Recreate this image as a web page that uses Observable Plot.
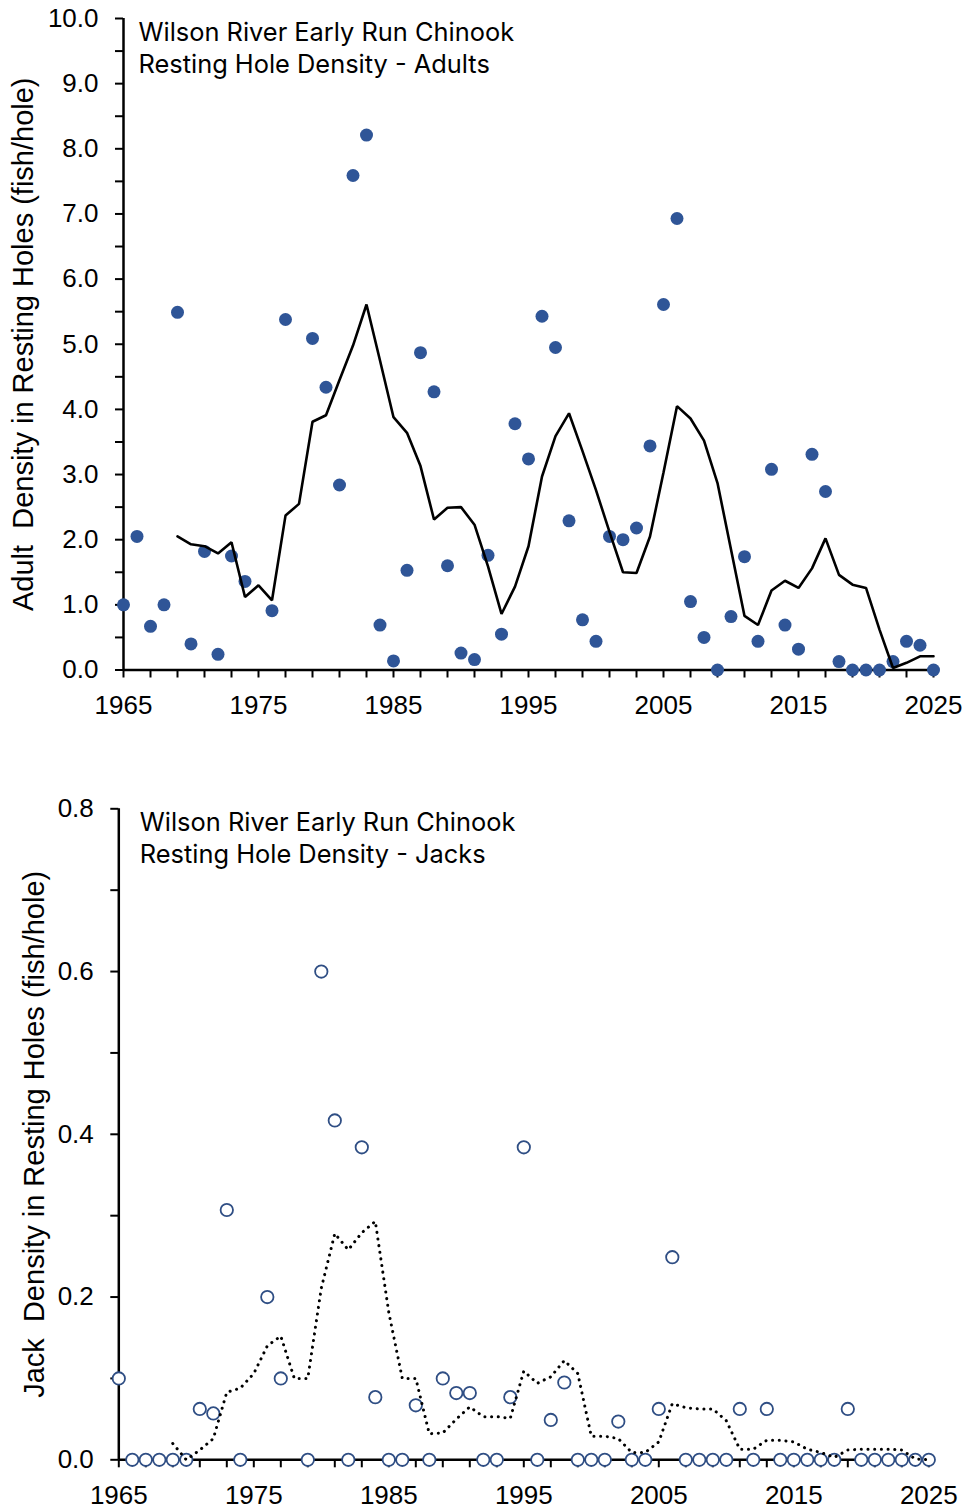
<!DOCTYPE html>
<html>
<head>
<meta charset="utf-8">
<script src="https://cdn.jsdelivr.net/npm/d3@7"></script>
<script src="https://cdn.jsdelivr.net/npm/@observablehq/plot@0.6"></script>
<style>
  html, body { margin: 0; padding: 0; background: #fff; }
  #chart svg { display: block; }
</style>
</head>
<body>
<div id="chart"></div>
<script>
// ---- Data ----
const years = [1965,1966,1967,1968,1969,1970,1971,1972,1973,1974,1976,1977,1979,1980,1981,1982,1983,1984,1985,1986,1987,1988,1989,1990,1991,1992,1993,1994,1995,1996,1997,1998,1999,2000,2001,2002,2003,2004,2005,2006,2007,2008,2009,2010,2011,2012,2013,2014,2015,2016,2017,2018,2019,2020,2021,2022,2023,2024,2025];
const adultDensity = [1.00,2.05,0.67,1.00,5.49,0.40,1.82,0.24,1.75,1.36,0.91,5.38,5.09,4.34,2.84,7.59,8.21,0.69,0.14,1.53,4.87,4.27,1.60,0.26,0.16,1.76,0.55,3.78,3.24,5.43,4.95,2.29,0.77,0.44,2.05,2.00,2.18,3.44,5.61,6.93,1.05,0.50,0.00,0.82,1.74,0.44,3.08,0.69,0.32,3.31,2.74,0.13,0.00,0.00,0.00,0.13,0.44,0.38,0.00];
const jackDensity = [0.100,0,0,0,0,0,0.0625,0.057,0.307,0,0.200,0.100,0,0.600,0.417,0,0.384,0.077,0,0,0.067,0,0.100,0.082,0.082,0,0,0.077,0.384,0,0.049,0.095,0,0,0,0.047,0,0,0.0625,0.249,0,0,0,0,0.0625,0,0.0625,0,0,0,0,0,0.0625,0,0,0,0,0,0];

const avgYears = [1969,1970,1971,1972,1973,1974,1975,1976,1977,1978,1979,1980,1981,1982,1983,1984,1985,1986,1987,1988,1989,1990,1991,1992,1993,1994,1995,1996,1997,1998,1999,2000,2001,2002,2003,2004,2005,2006,2007,2008,2009,2010,2011,2012,2013,2014,2015,2016,2017,2018,2019,2020,2021,2022,2023,2024,2025];
const adultAverage = [2.05,1.93,1.90,1.79,1.96,1.12,1.30,1.07,2.37,2.55,3.81,3.91,4.45,4.98,5.61,4.75,3.88,3.64,3.13,2.31,2.49,2.50,2.23,1.59,0.86,1.28,1.90,2.97,3.59,3.94,3.36,2.76,2.12,1.50,1.49,2.05,3.03,4.05,3.86,3.52,2.87,1.85,0.83,0.69,1.22,1.37,1.26,1.56,2.02,1.46,1.31,1.26,0.62,0.03,0.11,0.21,0.21];
const jackAverage = [0.020,0.000,0.012,0.026,0.083,0.088,0.106,0.140,0.152,0.100,0.100,0.211,0.278,0.258,0.279,0.293,0.181,0.100,0.100,0.032,0.033,0.050,0.065,0.053,0.053,0.051,0.109,0.094,0.102,0.122,0.106,0.029,0.029,0.026,0.009,0.009,0.022,0.069,0.064,0.0625,0.0625,0.048,0.013,0.013,0.024,0.024,0.022,0.013,0.009,0.003,0.012,0.013,0.013,0.013,0.012,0.001,0.000];

const xTickYears = d3.range(1965, 2026, 2);
const xLabelYears = [1965, 1975, 1985, 1995, 2005, 2015, 2025];
const adultTicks = d3.range(0, 10.01, 0.5);
const adultLabels = d3.range(0, 10.01, 1);
const jackTicks = d3.range(0, 0.801, 0.1);
const jackLabels = [0, 0.2, 0.4, 0.6, 0.8];

const adultTitle = ["Wilson River Early Run Chinook", "Resting Hole Density - Adults"];
const jackTitle = ["Wilson River Early Run Chinook", "Resting Hole Density - Jacks"];
const adultYLabel = "Adult  Density in Resting Holes (fish/hole)";
const jackYLabel = "Jack  Density in Resting Holes (fish/hole)";

const adultPoints = years.map((y, i) => ({year: y, value: adultDensity[i]}));
const jackPoints = years.map((y, i) => ({year: y, value: jackDensity[i]}));
const adultAvg = avgYears.map((y, i) => ({year: y, value: adultAverage[i]}));
const jackAvg = avgYears.map((y, i) => ({year: y, value: jackAverage[i]}));

const tickFont = "'Liberation Sans', Arial, sans-serif";
const titleFont = "Inter, 'Open Sans', sans-serif";
const dotBlue = "#2F5597";
const circleBlue = "#2F4E84";

function panel({height, marginTop, marginBottom, marginLeft, marginRight, yDomain, yTicks, yLabels, yFormat, yLabel, title, titleDx, points, avg, filled, labelOffset}) {
  return Plot.plot({
    width: 967,
    height,
    marginTop, marginBottom, marginLeft, marginRight,
    style: {fontFamily: tickFont, fontSize: "26px", color: "#000", background: "#fff", overflow: "visible"},
    x: {domain: [1965, 2025]},
    y: {domain: yDomain},
    marks: [
      Plot.axisX({ticks: xTickYears, tickSize: 8, tickFormat: () => "", label: null, strokeWidth: 2, stroke: "#000"}),
      Plot.axisY({ticks: yTicks, tickSize: 8, tickFormat: () => "", label: null, strokeWidth: 2, stroke: "#000"}),
      Plot.axisX({ticks: xLabelYears, tickSize: 0, tickPadding: 25.5, tickFormat: d => String(d), label: null, fontSize: 26, fontFamily: tickFont, fill: "#000"}),
      Plot.axisY({ticks: yLabels, tickSize: 0, tickPadding: 25, tickFormat: yFormat, label: null, fontSize: 26, fontFamily: tickFont, fill: "#000"}),
      Plot.axisY({ticks: [], tickSize: 0, label: yLabel, labelAnchor: "center", labelOffset, labelArrow: "none", fontSize: 29, fontFamily: tickFont, fill: "#000"}),
      Plot.ruleY([yDomain[0]], {stroke: "#000", strokeWidth: 2.5}),
      Plot.ruleX([1965], {stroke: "#000", strokeWidth: 2.5}),
      Plot.text([title.join("\n")], {text: d => d, frameAnchor: "top-left", dx: titleDx, dy: 0, lineAnchor: "top", lineHeight: 1.244, fontSize: 25.4, fontFamily: titleFont, fill: "#000"}),
      filled
        ? Plot.dot(points, {x: "year", y: "value", r: 6.5, fill: dotBlue, stroke: "none"})
        : Plot.dot(points, {x: "year", y: "value", r: 6.2, fill: "#fff", stroke: circleBlue, strokeWidth: 1.8}),
      filled
        ? Plot.line(avg, {x: "year", y: "value", stroke: "#000", strokeWidth: 2.6, strokeLinejoin: "miter"})
        : Plot.line(avg, {x: "year", y: "value", stroke: "#000", strokeWidth: 3, strokeDasharray: "0.1,6.6", strokeLinecap: "round"})
    ]
  });
}

const adultChart = panel({
  height: 745, marginTop: 18, marginBottom: 75.5, marginLeft: 123, marginRight: 34,
  yDomain: [0, 10], yTicks: adultTicks, yLabels: adultLabels, yFormat: d3.format(".1f"),
  yLabel: adultYLabel, title: adultTitle, titleDx: 15, points: adultPoints, avg: adultAvg, filled: true, labelOffset: 111
});
const jackChart = panel({
  height: 765, marginTop: 63.3, marginBottom: 50.7, marginLeft: 118.3, marginRight: 38.7,
  yDomain: [0, 0.8], yTicks: jackTicks, yLabels: jackLabels, yFormat: d3.format(".1f"),
  yLabel: jackYLabel, title: jackTitle, titleDx: 21, points: jackPoints, avg: jackAvg, filled: false, labelOffset: 95
});
document.getElementById("chart").append(adultChart, jackChart);
</script>
</body>
</html>
